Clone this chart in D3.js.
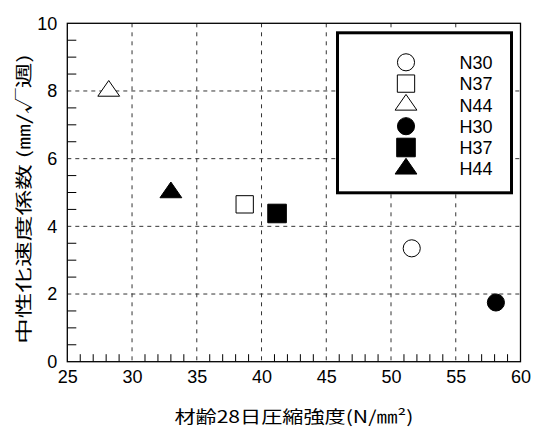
<!DOCTYPE html>
<html>
<head>
<meta charset="utf-8">
<script src="https://cdn.jsdelivr.net/npm/d3@7"></script>
<style>
  html, body { margin: 0; padding: 0; background: #fff; }
</style>
</head>
<body>
<div id="chartContainer"></div>
<script>
// data
const mixes = ["N30", "N37", "N44", "H30", "H37", "H44"];
const strength = [51.6, 38.7, 28.2, 58.1, 41.2, 33.0];   // N/mm2
const carbRate = [3.35, 4.65, 8.0, 1.75, 4.38, 5.0];    // mm/sqrt(week)
const shapes = ["circle", "square", "triangle", "circle", "square", "triangle"];
const filled = [false, false, false, true, true, true];
const xTicks = [25, 30, 35, 40, 45, 50, 55, 60];
const yTicks = [0, 2, 4, 6, 8, 10];

(function() {
    const fullWidth = 537, fullHeight = 430;
    const margin = {top: 23.3, right: 16.5, bottom: 68.3, left: 67.3};
    const width = fullWidth - margin.left - margin.right;
    const height = fullHeight - margin.top - margin.bottom;

    const svg = d3.select("#chartContainer").append("svg")
        .attr("width", fullWidth)
        .attr("height", fullHeight);

    const g = svg.append("g")
        .attr("transform", `translate(${margin.left},${margin.top})`);

    const x = d3.scaleLinear().domain([25, 60]).range([0, width]);
    const y = d3.scaleLinear().domain([0, 10]).range([height, 0]);

    // dashed grid
    g.append("g").selectAll("line")
        .data(xTicks.slice(1, -1))
        .join("line")
        .attr("x1", d => x(d)).attr("x2", d => x(d))
        .attr("y1", 0).attr("y2", height)
        .attr("stroke", "#333").attr("stroke-width", 1)
        .attr("stroke-dasharray", "4,5");
    g.append("g").selectAll("line")
        .data(yTicks.slice(1, -1))
        .join("line")
        .attr("x1", 0).attr("x2", width)
        .attr("y1", d => y(d)).attr("y2", d => y(d))
        .attr("stroke", "#333").attr("stroke-width", 1)
        .attr("stroke-dasharray", "4,4");

    // minor ticks (inside)
    g.append("g").selectAll("line")
        .data(d3.range(26, 60, 1).filter(d => d % 5 !== 0))
        .join("line")
        .attr("x1", d => x(d)).attr("x2", d => x(d))
        .attr("y1", height).attr("y2", height - 7.5)
        .attr("stroke", "#000").attr("stroke-width", 1);
    g.append("g").selectAll("line")
        .data(d3.range(0.5, 10, 0.5).filter(d => d % 2 !== 0))
        .join("line")
        .attr("x1", 0).attr("x2", 9)
        .attr("y1", d => y(d)).attr("y2", d => y(d))
        .attr("stroke", "#000").attr("stroke-width", 1);

    // frame
    g.append("rect")
        .attr("width", width).attr("height", height)
        .attr("fill", "none").attr("stroke", "#000").attr("stroke-width", 1.3);

    // tick labels
    const xAxis = d3.axisBottom(x).tickValues(xTicks).tickSize(0).tickPadding(9);
    const xg = g.append("g").attr("transform", `translate(0,${height})`).call(xAxis);
    const yAxis = d3.axisLeft(y).tickValues(yTicks).tickSize(0).tickPadding(10);
    const yg = g.append("g").call(yAxis);
    [xg, yg].forEach(a => {
        a.select(".domain").remove();
        a.selectAll("text")
            .attr("font-family", "'Liberation Sans', Arial, sans-serif")
            .attr("font-size", 18)
            .attr("fill", "#000");
    });

    // symbols
    const triangle = {
        draw(ctx, size) {
            const w = Math.sqrt(size) * 1.38, h = w * 0.72;
            ctx.moveTo(0, -h * 2 / 3);
            ctx.lineTo(w / 2, h / 3);
            ctx.lineTo(-w / 2, h / 3);
            ctx.closePath();
        }
    };
    const symType = {circle: d3.symbolCircle, square: d3.symbolSquare, triangle: triangle};
    const symSize = {circle: 230, square: 300, triangle: 250};
    const sym = (shape, fill) => d3.symbol()
        .type(symType[shape])
        .size(symSize[shape] * (fill && shape === "square" ? 1.15 : 1))();

    const points = mixes.map((m, i) => ({
        name: m, sx: strength[i], sy: carbRate[i], shape: shapes[i], fill: filled[i]
    }));

    g.append("g").selectAll("path")
        .data(points)
        .join("path")
        .attr("transform", d => `translate(${x(d.sx)},${y(d.sy)})`)
        .attr("d", d => sym(d.shape, d.fill))
        .attr("fill", d => d.fill ? "#000" : "#fff")
        .attr("stroke", "#000").attr("stroke-width", 1);

    // legend
    const legend = svg.append("g").attr("transform", "translate(337.5,32.8)");
    legend.append("rect")
        .attr("width", 174).attr("height", 160)
        .attr("fill", "#fff").attr("stroke", "#000").attr("stroke-width", 3);
    const rowH = 21.3;
    const rows = legend.selectAll("g.row")
        .data(points)
        .join("g")
        .attr("class", "row")
        .attr("transform", (d, i) => `translate(0,${29.5 + i * rowH})`);
    rows.append("path")
        .attr("transform", "translate(68.5,0)")
        .attr("d", d => sym(d.shape, d.fill))
        .attr("fill", d => d.fill ? "#000" : "#fff")
        .attr("stroke", "#000").attr("stroke-width", 1);
    rows.append("text")
        .attr("x", 122)
        .attr("y", 6.6)
        .attr("font-family", "'Liberation Sans', Arial, sans-serif")
        .attr("font-size", 18)
        .attr("textLength", 33)
        .attr("lengthAdjust", "spacingAndGlyphs")
        .attr("fill", "#000")
        .text(d => d.name);

    // axis titles
    svg.append("text")
        .attr("x", margin.left + width / 2)
        .attr("y", 422.5)
        .attr("text-anchor", "middle")
        .attr("font-family", "'Noto Sans CJK JP', sans-serif")
        .attr("font-size", 17)
        .attr("textLength", 239)
        .attr("lengthAdjust", "spacingAndGlyphs")
        .attr("fill", "#000")
        .text("材齢28日圧縮強度(N/㎜²)");

    svg.append("text")
        .attr("transform", `translate(30,199) rotate(-90)`)
        .attr("text-anchor", "middle")
        .attr("font-family", "'Noto Sans CJK JP', sans-serif")
        .attr("font-size", 17)
        .attr("textLength", 290)
        .attr("lengthAdjust", "spacingAndGlyphs")
        .attr("fill", "#000")
        .text("中性化速度係数 (㎜/√週)");
})();
</script>
</body>
</html>
